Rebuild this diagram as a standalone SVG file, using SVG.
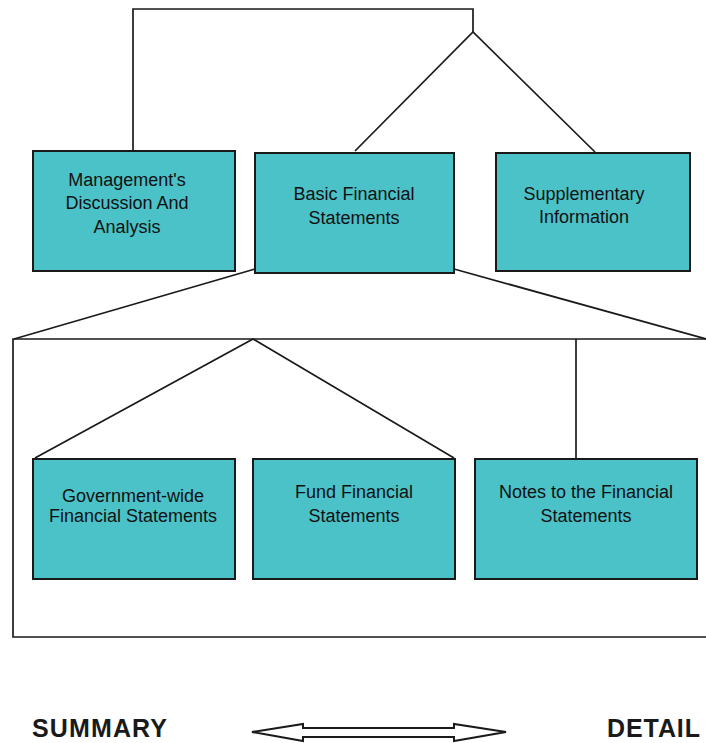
<svg xmlns="http://www.w3.org/2000/svg" width="706" height="743" viewBox="0 0 706 743">
  <style>
    .box { fill: #4bc1c8; stroke: #1a1a1a; stroke-width: 2; }
    .lbl { font-family: "Liberation Sans", Arial, sans-serif; font-size: 18px; fill: #111; text-anchor: middle; }
    .wire { fill: none; stroke: #1a1a1a; stroke-width: 1.7; }
    .cap { font-family: "Liberation Sans", Arial, sans-serif; font-size: 25px; font-weight: bold; fill: #1a1a1a; }
  </style>
  <rect width="706" height="743" fill="#ffffff"/>

  <!-- connectors -->
  <g id="connectors">
    <!-- top bracket joining the three report parts -->
    <path class="wire" d="M133,151 V9 H473 V32"/>
    <path class="wire" d="M355,151 L473,32 L595,152"/>
    <!-- expansion of basic financial statements -->
    <path class="wire" d="M255,269 L14,339"/>
    <path class="wire" d="M454,269 L706,339"/>
    <path class="wire" d="M706,339 H13 V637 H706"/>
    <path class="wire" d="M35,458 L253,339 L454,458"/>
    <path class="wire" d="M576,339 V458"/>
  </g>

  <!-- upper row -->
  <g id="mdna">
    <rect class="box" x="33" y="151" width="202" height="120"/>
    <text class="lbl" x="127" y="186">Management's</text>
    <text class="lbl" x="127" y="209">Discussion And</text>
    <text class="lbl" x="127" y="233">Analysis</text>
  </g>
  <g id="basic">
    <rect class="box" x="255" y="153" width="199" height="120"/>
    <text class="lbl" x="354" y="200">Basic Financial</text>
    <text class="lbl" x="354" y="224">Statements</text>
  </g>
  <g id="supplementary">
    <rect class="box" x="496" y="153" width="194" height="118"/>
    <text class="lbl" x="584" y="200">Supplementary</text>
    <text class="lbl" x="584" y="223">Information</text>
  </g>

  <!-- lower row -->
  <g id="government-wide">
    <rect class="box" x="33" y="459" width="202" height="120"/>
    <text class="lbl" x="133" y="502">Government-wide</text>
    <text class="lbl" x="133" y="522">Financial Statements</text>
  </g>
  <g id="fund">
    <rect class="box" x="253" y="459" width="202" height="120"/>
    <text class="lbl" x="354" y="498">Fund Financial</text>
    <text class="lbl" x="354" y="522">Statements</text>
  </g>
  <g id="notes">
    <rect class="box" x="475" y="459" width="222" height="120"/>
    <text class="lbl" x="586" y="498">Notes to the Financial</text>
    <text class="lbl" x="586" y="522">Statements</text>
  </g>

  <!-- summary / detail scale -->
  <g id="scale">
    <text class="cap" x="32" y="737" textLength="135" lengthAdjust="spacing">SUMMARY</text>
    <text class="cap" x="607" y="737" textLength="93" lengthAdjust="spacing">DETAIL</text>
    <polygon points="252,732 303,724 303,728 454,728 454,724 506,732 454,741 454,737 303,737 303,741" fill="#ffffff" stroke="#1a1a1a" stroke-width="2" stroke-linejoin="miter"/>
  </g>
</svg>
